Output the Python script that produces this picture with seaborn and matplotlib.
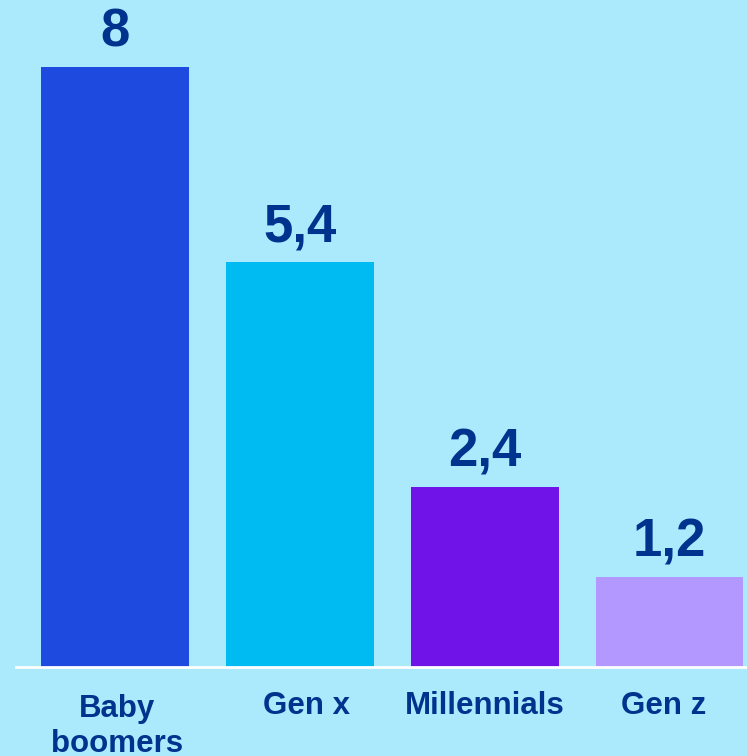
import matplotlib
matplotlib.use("Agg")
import matplotlib.pyplot as plt
import matplotlib.transforms as mtransforms
import seaborn as sns
import pandas as pd

categories = ["Baby\nboomers", "Gen x", "Millennials", "Gen z"]
values = [8, 5.4, 2.4, 1.2]
value_labels = ["8", "5,4", "2,4", "1,2"]
bar_colors = ["#1F4AE0", "#00BAF2", "#7013E8", "#B399FF"]

bg = "#ABE9FD"
ink = "#00338D"

# small nudges (in pixels) for the category captions
label_nudge = [(2, -3), (7, 0), (0, 0), (-6, 0)]

sns.set_theme(style="white")
plt.rcParams["font.family"] = ["Liberation Sans", "DejaVu Sans"]

df = pd.DataFrame({"gen": categories, "val": values})

fig = plt.figure(figsize=(7.47, 7.56), dpi=100, facecolor=bg)
ax = fig.add_axes([16 / 747, 89 / 756, 1 - 16 / 747, 1 - 89 / 756])
ax.set_facecolor(bg)

sns.barplot(data=df, x="gen", y="val", hue="gen", palette=bar_colors,
            width=0.8, legend=False, ax=ax, saturation=1, linewidth=0)

for container, lab in zip(ax.containers, value_labels):
    ax.bar_label(container, labels=[lab], padding=7, fontsize=38,
                 fontweight="bold", color=ink)

ax.set_xlim(-0.535, 3.419)
ax.set_ylim(0, 8.9)
ax.set_xlabel("")
ax.set_ylabel("")
ax.set_yticks([])
ax.tick_params(axis="x", length=0, pad=17.5)
for t, (dx, dy) in zip(ax.get_xticklabels(), label_nudge):
    t.set_fontsize(22.5)
    t.set_fontweight("bold")
    t.set_color(ink)
    t.set_linespacing(1.22)
    t.set_transform(t.get_transform() + mtransforms.Affine2D().translate(dx, dy))

for side in ["top", "left", "right"]:
    ax.spines[side].set_visible(False)
ax.spines["bottom"].set_color("white")
ax.spines["bottom"].set_linewidth(2)

fig.savefig("out.png", dpi=100, facecolor=bg)
